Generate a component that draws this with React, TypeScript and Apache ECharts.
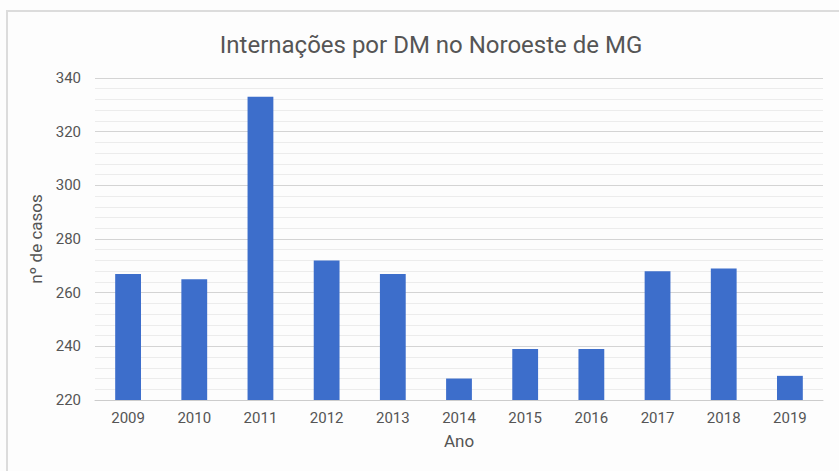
import React, { useEffect, useRef } from "react";
import * as echarts from "echarts";

const years = ["2009", "2010", "2011", "2012", "2013", "2014", "2015", "2016", "2017", "2018", "2019"];
const cases = [267, 265, 333, 272, 267, 228, 239, 239, 268, 269, 229];
const titleText = "Internações por DM no Noroeste de MG";
const yName = "nº de casos";
const xName = "Ano";

export default function App() {
  const ref = useRef<HTMLDivElement>(null);
  useEffect(() => {
    if (!ref.current) return;
    const chart = echarts.init(ref.current, undefined, { renderer: "svg" });
    const font = "Roboto, 'Liberation Sans', Arial, sans-serif";
    chart.setOption({
      animation: false,
      backgroundColor: "#fdfdfd",
      textStyle: { fontFamily: font },
      title: {
        text: titleText,
        left: 426,
        top: 28,
        textAlign: "center",
        textStyle: { fontFamily: font, fontSize: 24, fontWeight: "normal", color: "#555" },
      },
      graphic: [
        {
          type: "rect",
          shape: { x: 7, y: 11, width: 840, height: 470 },
          style: { fill: "none", stroke: "#dcdcdc", lineWidth: 2 },
          silent: true,
        },
      ],
      grid: { left: 95, right: 16, top: 78, bottom: 71, containLabel: false },
      xAxis: {
        type: "category",
        data: years,
        name: xName,
        nameLocation: "middle",
        nameGap: 32,
        nameTextStyle: { fontFamily: font, fontSize: 17, color: "#555" },
        axisLine: { lineStyle: { color: "#ccc" } },
        axisTick: { show: false },
        axisLabel: { fontFamily: font, fontSize: 15, color: "#555", margin: 10 },
      },
      yAxis: {
        type: "value",
        min: 220,
        max: 340,
        interval: 20,
        name: yName,
        nameLocation: "middle",
        nameGap: 41,
        nameTextStyle: { fontFamily: font, fontSize: 17, color: "#555" },
        axisLine: { show: false },
        axisTick: { show: false },
        axisLabel: { fontFamily: font, fontSize: 15, color: "#555", margin: 14 },
        splitLine: { lineStyle: { color: "#d4d4d4" } },
        minorTick: { show: false, splitNumber: 5 },
        minorSplitLine: { show: true, lineStyle: { color: "#ececec" } },
      },
      series: [
        {
          type: "bar",
          data: cases,
          barWidth: "39%",
          itemStyle: { color: "#3d6ecb" },
        },
      ],
    });
    return () => chart.dispose();
  }, []);
  return <div ref={ref} style={{ position: "fixed", left: 0, top: 0, width: 839, height: 471 }} />;
}
